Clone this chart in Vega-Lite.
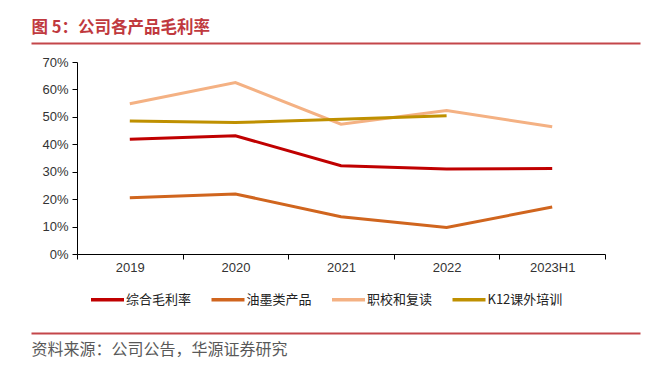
{
  "$schema": "https://vega.github.io/schema/vega-lite/v6.json",
  "width": 528,
  "height": 192,
  "autosize": {"type": "none"},
  "padding": {"left": 77, "top": 62, "right": 51, "bottom": 115},
  "background": "white",
  "config": {"view": {"stroke": null}},
  "resolve": {"scale": {"x": "independent"}, "axis": {"x": "independent"}},
  "layer": [
    {
      "data": {"values": [
        {"year": "2019", "series": "综合毛利率", "value": 0.418},
        {"year": "2020", "series": "综合毛利率", "value": 0.431},
        {"year": "2021", "series": "综合毛利率", "value": 0.322},
        {"year": "2022", "series": "综合毛利率", "value": 0.310},
        {"year": "2023H1", "series": "综合毛利率", "value": 0.312},
        {"year": "2019", "series": "油墨类产品", "value": 0.205},
        {"year": "2020", "series": "油墨类产品", "value": 0.219},
        {"year": "2021", "series": "油墨类产品", "value": 0.136},
        {"year": "2022", "series": "油墨类产品", "value": 0.097},
        {"year": "2023H1", "series": "油墨类产品", "value": 0.171},
        {"year": "2019", "series": "职校和复读", "value": 0.548},
        {"year": "2020", "series": "职校和复读", "value": 0.625},
        {"year": "2021", "series": "职校和复读", "value": 0.473},
        {"year": "2022", "series": "职校和复读", "value": 0.523},
        {"year": "2023H1", "series": "职校和复读", "value": 0.464},
        {"year": "2019", "series": "K12课外培训", "value": 0.485},
        {"year": "2020", "series": "K12课外培训", "value": 0.479},
        {"year": "2021", "series": "K12课外培训", "value": 0.491},
        {"year": "2022", "series": "K12课外培训", "value": 0.504}
      ]},
      "mark": {"type": "line", "strokeWidth": 3},
      "encoding": {
        "x": {
          "field": "year", "type": "nominal", "sort": null,
          "scale": {"type": "band", "paddingInner": 0, "paddingOuter": 0},
          "axis": {
            "orient": "bottom", "title": null, "labelAngle": 0,
            "tickBand": "extent", "tickSize": 5, "tickColor": "#000",
            "domainColor": "#000", "domainWidth": 1,
            "labelFont": "Liberation Sans", "labelFontSize": 13, "labelColor": "#333",
            "labelPadding": 2, "grid": false
          }
        },
        "y": {
          "field": "value", "type": "quantitative",
          "scale": {"domain": [0, 0.7], "nice": false},
          "axis": {
            "title": null, "format": ".0%", "values": [0, 0.1, 0.2, 0.3, 0.4, 0.5, 0.6, 0.7],
            "grid": false, "tickSize": 5, "tickColor": "#000",
            "domainColor": "#000", "domainWidth": 1,
            "labelFont": "Liberation Sans", "labelFontSize": 13, "labelColor": "#333",
            "labelPadding": 4
          }
        },
        "color": {
          "field": "series", "type": "nominal",
          "scale": {
            "domain": ["综合毛利率", "油墨类产品", "职校和复读", "K12课外培训"],
            "range": ["#C00000", "#D0651E", "#F4B183", "#BF9000"]
          },
          "legend": {
            "title": null, "orient": "none", "direction": "horizontal",
            "legendX": 12, "legendY": 219, "padding": 0,
            "symbolType": "stroke", "symbolSize": 1089, "symbolStrokeWidth": 3.5,
            "labelFont": "Noto Sans CJK SC", "labelFontSize": 13, "labelColor": "#222",
            "labelOffset": 0, "columnPadding": 12.5
          }
        }
      }
    },
    {
      "data": {"values": [{"p": 0}, {"p": 1}]},
      "mark": {"type": "point", "opacity": 0},
      "encoding": {
        "x": {
          "field": "p", "type": "quantitative",
          "scale": {"domain": [0, 1], "range": [-46, 563], "nice": false, "zero": false},
          "axis": {
            "orient": "top", "offset": 19, "labels": false, "ticks": false, "grid": false,
            "domainColor": "#C4464A", "domainWidth": 2,
            "title": "图 5：公司各产品毛利率",
            "titleAnchor": "start", "titleAlign": "left", "titlePadding": 8,
            "titleFont": "Noto Sans CJK SC", "titleFontSize": 16.5, "titleFontWeight": "bold",
            "titleColor": "#C0393E"
          }
        }
      }
    },
    {
      "data": {"values": [{"q": 0}, {"q": 1}]},
      "mark": {"type": "point", "opacity": 0},
      "encoding": {
        "x": {
          "field": "q", "type": "quantitative",
          "scale": {"domain": [0, 1], "range": [-46, 563], "nice": false, "zero": false},
          "axis": {
            "orient": "bottom", "offset": 79, "labels": false, "ticks": false, "grid": false,
            "domainColor": "#C4464A", "domainWidth": 2,
            "title": "资料来源：公司公告，华源证券研究",
            "titleAnchor": "start", "titleAlign": "left", "titlePadding": 8,
            "titleFont": "Noto Sans CJK SC", "titleFontSize": 16, "titleFontWeight": "normal",
            "titleColor": "#595959"
          }
        }
      }
    }
  ]
}
